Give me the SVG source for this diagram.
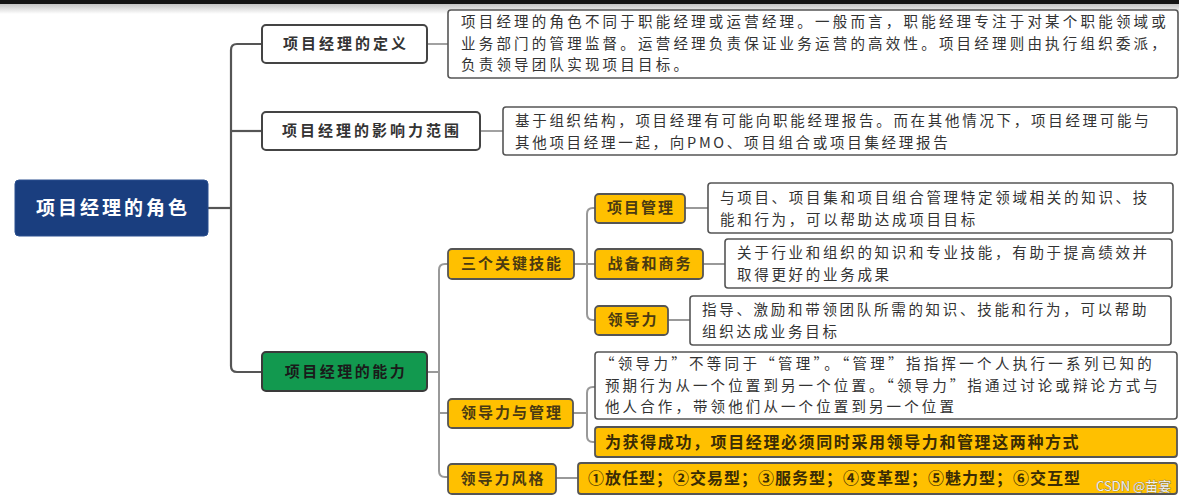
<svg xmlns="http://www.w3.org/2000/svg" width="1179" height="500" viewBox="0 0 1179 500">
<defs>
<linearGradient id="shade" x1="0" y1="0" x2="0" y2="1">
<stop offset="0" stop-color="#c4c4c4"/>
<stop offset="1" stop-color="#ffffff"/>
</linearGradient>
<style>
text{font-family:"Noto Sans CJK SC","Noto Sans",sans-serif;}
.lbl{font-size:15px;font-weight:700;fill:#333;letter-spacing:3px;text-anchor:middle;}
.olbl{font-size:15px;font-weight:700;fill:#4a3a12;letter-spacing:2px;text-anchor:middle;}
.desc{font-size:14.5px;fill:#333;letter-spacing:2.7px;}
.odesc{font-size:16px;fill:#3a2c05;font-weight:700;letter-spacing:1.6px;}
.nbox{fill:#fff;stroke:#444;stroke-width:2;}
.dbox{fill:#fff;stroke:#555;stroke-width:1.6;}
.obox{fill:#ffc000;stroke:#555;stroke-width:1.8;}
.trunk{fill:none;stroke:#555;stroke-width:2.2;}
.br{fill:none;stroke:#999;stroke-width:2;}
.lk{fill:none;stroke:#8a8a8a;stroke-width:1.6;}
</style>
</defs>
<rect x="0" y="0" width="1179" height="500" fill="#fff"/>
<rect x="0" y="4" width="1179" height="10" fill="url(#shade)"/>
<rect x="0" y="0" width="1179" height="4" fill="#141414"/>

<g id="connectors">
<path class="trunk" d="M208,208 H231"/>
<path class="trunk" d="M262,44 H237 Q231,44 231,50 V366 Q231,372 237,372 H262"/>
<path class="trunk" d="M231,131 H262"/>
<path class="lk" d="M427,44 H448"/>
<path class="lk" d="M480,131 H503"/>
<path class="br" d="M427,372 H439"/>
<path class="br" d="M448,264 H445 Q439,264 439,270 V471 Q439,477 445,477 H448"/>
<path class="br" d="M439,413 H448"/>
<path class="br" d="M574,264 H595"/>
<path class="br" d="M595,208 H593 Q587,208 587,214 V314 Q587,320 593,320 H595"/>
<path class="br" d="M685,208 H708"/>
<path class="br" d="M703,264 H725"/>
<path class="br" d="M668,320 H690"/>
<path class="br" d="M573,413 H587"/>
<path class="br" d="M595,387 H593 Q587,387 587,393 V436 Q587,442 593,442 H595"/>
<path class="br" d="M556,478 H578"/>
</g>

<g id="root">
<rect x="15" y="180" width="193" height="56" rx="4" fill="#1a3e7f" stroke="#2a4f8f" stroke-width="1"/>
<text x="113" y="215" font-size="19" font-weight="700" fill="#fff" letter-spacing="3" text-anchor="middle">项目经理的角色</text>
</g>

<g id="def">
<rect class="nbox" x="262" y="25" width="165" height="38" rx="4"/>
<text class="lbl" x="346" y="49">项目经理的定义</text>
</g>
<g id="def-desc">
<rect class="dbox" x="448" y="10" width="730" height="68" rx="3"/>
<text class="desc" x="461" y="27" style="letter-spacing:3.2px">项目经理的角色不同于职能经理或运营经理。一般而言，职能经理专注于对某个职能领域或</text>
<text class="desc" x="461" y="48.5" style="letter-spacing:3.2px">业务部门的管理监督。运营经理负责保证业务运营的高效性。项目经理则由执行组织委派，</text>
<text class="desc" x="461" y="70" style="letter-spacing:3.2px">负责领导团队实现项目目标。</text>
</g>

<g id="influence">
<rect class="nbox" x="262" y="112" width="218" height="38" rx="4"/>
<text class="lbl" x="372" y="136">项目经理的影响力范围</text>
</g>
<g id="influence-desc">
<rect class="dbox" x="503" y="107" width="674" height="48" rx="3"/>
<text class="desc" x="515" y="126">基于组织结构，项目经理有可能向职能经理报告。而在其他情况下，项目经理可能与</text>
<text class="desc" x="515" y="147.5">其他项目经理一起，向PMO、项目组合或项目集经理报告</text>
</g>

<g id="ability">
<rect x="262" y="352" width="165" height="39" rx="4" fill="#12994f" stroke="#3a3a3a" stroke-width="2"/>
<text class="lbl" x="346" y="377" style="fill:#1a1a1a;letter-spacing:2.5px">项目经理的能力</text>
</g>

<g id="skills">
<rect class="obox" x="448" y="249" width="126" height="30" rx="4"/>
<text class="olbl" x="512" y="269">三个关键技能</text>
</g>
<g id="pm">
<rect class="obox" x="595" y="194" width="90" height="29" rx="4"/>
<text class="olbl" x="641" y="213">项目管理</text>
</g>
<g id="pm-desc">
<rect class="dbox" x="708" y="183" width="465" height="50" rx="3"/>
<text class="desc" x="720" y="203">与项目、项目集和项目组合管理特定领域相关的知识、技</text>
<text class="desc" x="720" y="224.5">能和行为，可以帮助达成项目目标</text>
</g>
<g id="strategy">
<rect class="obox" x="595" y="249" width="108" height="30" rx="4"/>
<text class="olbl" x="650" y="269">战备和商务</text>
</g>
<g id="strategy-desc">
<rect class="dbox" x="725" y="239" width="447" height="49" rx="3"/>
<text class="desc" x="737" y="258">关于行业和组织的知识和专业技能，有助于提高绩效并</text>
<text class="desc" x="737" y="279.5">取得更好的业务成果</text>
</g>
<g id="leadership">
<rect class="obox" x="595" y="306" width="73" height="29" rx="4"/>
<text class="olbl" x="633" y="325">领导力</text>
</g>
<g id="leadership-desc">
<rect class="dbox" x="690" y="296" width="481" height="49" rx="3"/>
<text class="desc" x="702" y="315">指导、激励和带领团队所需的知识、技能和行为，可以帮助</text>
<text class="desc" x="702" y="336.5">组织达成业务目标</text>
</g>

<g id="lead-mgmt">
<rect class="obox" x="448" y="399" width="125" height="29" rx="4"/>
<text class="olbl" x="512" y="418">领导力与管理</text>
</g>
<g id="lead-mgmt-desc">
<rect class="dbox" x="595" y="352" width="582" height="67" rx="3"/>
<text class="desc" x="600" y="369" style="letter-spacing:3.3px">“领导力”不等同于“管理”。“管理”指指挥一个人执行一系列已知的</text>
<text class="desc" x="605" y="390.5" style="letter-spacing:3.1px">预期行为从一个位置到另一个位置。“领导力”指通过讨论或辩论方式与</text>
<text class="desc" x="605" y="412" style="letter-spacing:3.1px">他人合作，带领他们从一个位置到另一个位置</text>
</g>
<g id="lead-mgmt-note">
<rect class="obox" x="595" y="427" width="582" height="30" rx="3"/>
<text class="odesc" x="605" y="448">为获得成功，项目经理必须同时采用领导力和管理这两种方式</text>
</g>

<g id="styles">
<rect class="obox" x="448" y="464" width="108" height="30" rx="4"/>
<text class="olbl" x="503" y="484">领导力风格</text>
</g>
<g id="styles-desc">
<rect class="obox" x="578" y="463" width="599" height="31" rx="3"/>
<text class="odesc" x="588" y="484" style="letter-spacing:1px">①放任型；②交易型；③服务型；④变革型；⑤魅力型；⑥交互型</text>
</g>

<text x="1096" y="491" font-size="13" fill="#f2f2f2" stroke="#666" stroke-width="0.6" paint-order="stroke">CSDN @苗宴</text>
</svg>
